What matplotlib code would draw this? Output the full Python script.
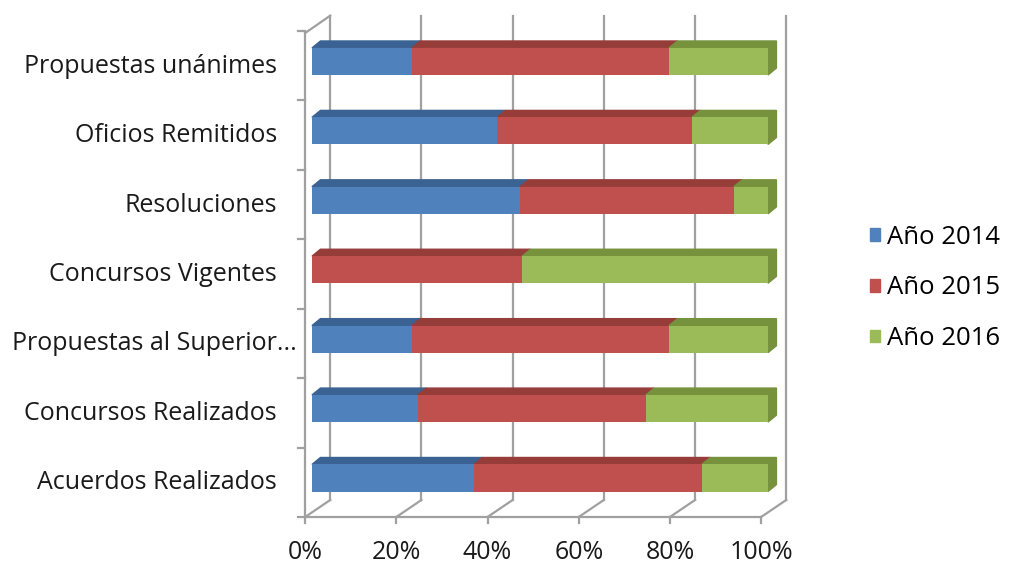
import numpy as np
import matplotlib.pyplot as plt
from matplotlib.patches import Polygon, Patch

plt.rcParams['font.family'] = ['Open Sans', 'DejaVu Sans']

categories = ["Acuerdos Realizados", "Concursos Realizados", "Propuestas al Superior...",
              "Concursos Vigentes", "Resoluciones", "Oficios Remitidos", "Propuestas unánimes"]
series = ["Año 2014", "Año 2015", "Año 2016"]
v2014 = [35.5, 23.2, 21.9, 0.0, 45.6, 40.6, 21.9]
v2015 = [50.0, 50.0, 56.4, 46.1, 46.9, 42.7, 56.4]
v2016 = [14.5, 26.8, 21.7, 53.9, 7.5, 16.7, 21.7]
xticks = [0, 20, 40, 60, 80, 100]

front_cols = ['#4F81BD', '#C0504D', '#9BBB59']
dark_cols = ['#3A6292', '#963D3A', '#76923C']
grid_col = '#A0A0A0'
fs = 18

fig = plt.figure(figsize=(10.12, 5.67), dpi=100)
ax = fig.add_axes([312 / 1012, 0.0958, 456 / 1012, 0.857])
ax.set_xlim(0, 100)
ax.set_ylim(-0.5, 6.5)
ax.axis('off')

# 3d box geometry (data units)
fx0 = -1.5        # front plane 0%
bx0 = 4.0         # back wall 0%
ybot_f = -0.562   # floor front edge
ybot_b = -0.317   # floor back edge
ytop_f = 6.41
ytop_b = 6.66
bdx, bdy = 1.85, 0.10   # bar depth
h = 0.39

# back wall gridlines + floor
for t in xticks:
    ax.plot([bx0 + t, bx0 + t], [ybot_b, ytop_b], color=grid_col, lw=1.6, zorder=1, clip_on=False)
    ax.plot([bx0 + t, fx0 + t], [ybot_b, ybot_f], color=grid_col, lw=1.6, zorder=1, clip_on=False)
    ax.plot([fx0 + t, fx0 + t], [ybot_f, ybot_f - 0.09], color=grid_col, lw=1.6, zorder=1, clip_on=False)
    ax.text(fx0 + t, -1.08, f"{t}%", ha='center', va='center', fontsize=fs, color='#1a1a1a')
ax.plot([fx0, fx0 + 100], [ybot_f, ybot_f], color=grid_col, lw=1.6, zorder=1, clip_on=False)
ax.plot([fx0, fx0], [ybot_f, ytop_f], color=grid_col, lw=1.6, zorder=1, clip_on=False)
ax.plot([fx0, bx0], [ytop_f, ytop_b], color=grid_col, lw=1.6, zorder=1, clip_on=False)
for k in range(8):
    ax.plot([fx0 - 1.6, fx0], [ybot_f + k, ybot_f + k], color=grid_col, lw=1.6, zorder=1, clip_on=False)

# bars
y = np.arange(len(categories))
vals = [v2014, v2015, v2016]
left = np.zeros(len(categories))
for s in range(3):
    w = np.array(vals[s])
    ax.barh(y, w, left=left, height=h, color=front_cols[s], zorder=3, label=series[s])
    for i in range(len(categories)):
        if w[i] <= 0:
            continue
        l, r = left[i], left[i] + w[i]
        top = y[i] + h / 2
        ax.add_patch(Polygon([[l, top], [r, top], [r + bdx, top + bdy], [l + bdx, top + bdy]],
                             closed=True, color=dark_cols[s], zorder=2, clip_on=False))
    left = left + w
# right end faces
for i in range(len(categories)):
    r = left[i]
    top = y[i] + h / 2
    bot = y[i] - h / 2
    ax.add_patch(Polygon([[r, bot], [r, top], [r + bdx, top + bdy], [r + bdx, bot + bdy]],
                         closed=True, color=dark_cols[2], zorder=2, clip_on=False))

for i, c in enumerate(categories):
    # the truncated label runs a bit further right, as in the original
    xr = -3.3 if c.endswith('...') else -7.7
    ax.text(xr, i - 0.07, c, ha='right', va='center', fontsize=fs, color='#1a1a1a')

handles = [Patch(color=front_cols[s], label=series[s]) for s in range(3)]
fig.legend(handles=handles, loc='center left', bbox_to_anchor=(870 / 1012, 1 - 288 / 567),
           frameon=False, fontsize=18.5, handlelength=0.4, handleheight=0.4,
           handletextpad=0.25, labelspacing=1.0, borderpad=0, borderaxespad=0)

plt.savefig('out.png', dpi=100)
